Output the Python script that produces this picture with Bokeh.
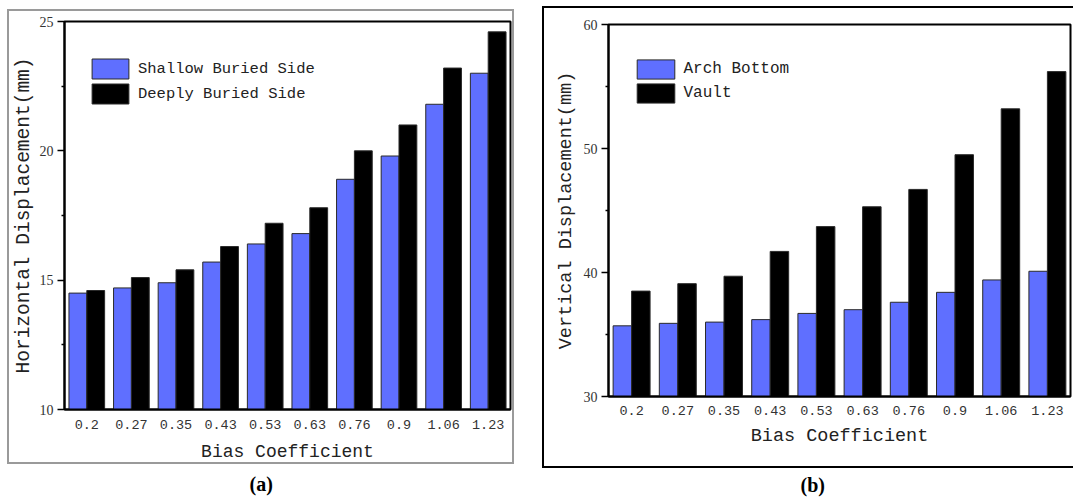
from bokeh.plotting import figure
from bokeh.layouts import row
from bokeh.models import (FactorRange, Range1d, FixedTicker, Legend, LegendItem,
                          Title, ColumnDataSource, InlineStyleSheet)
from bokeh.transform import dodge
from bokeh.embed import file_html
from bokeh.resources import INLINE

# ---- data -------------------------------------------------------------
bias = ["0.2", "0.27", "0.35", "0.43", "0.53", "0.63", "0.76", "0.9", "1.06", "1.23"]

# (a) horizontal displacement, mm
shallow_side = [14.5, 14.7, 14.9, 15.7, 16.4, 16.8, 18.9, 19.8, 21.8, 23.0]
deep_side = [14.6, 15.1, 15.4, 16.3, 17.2, 17.8, 20.0, 21.0, 23.2, 24.6]

# (b) vertical displacement, mm
arch_bottom = [35.7, 35.9, 36.0, 36.2, 36.7, 37.0, 37.6, 38.4, 39.4, 40.1]
vault = [38.5, 39.1, 39.7, 41.7, 43.7, 45.3, 46.7, 49.5, 53.2, 56.2]

BLUE = "#5F6FFF"
BLACK = "#000000"
MONO = "Liberation Mono"
SERIF = "Liberation Serif"


def panel_box(left, top, width, height, color, lw):
    # thin rectangle drawn around the whole panel (outside the plot frame)
    css = (":host { position: relative; }"
           ":host::after { content: ''; position: absolute; "
           f"left: {left}px; top: {top}px; width: {width}px; height: {height}px; "
           f"border: {lw}px solid {color}; box-sizing: border-box; "
           "pointer-events: none; }")
    return InlineStyleSheet(css=css)


def make_panel(a_vals, b_vals, names, y_lo, y_hi, majors, minors, ytitle,
               width, height, border_l, border_r, border_t, border_b,
               legend_xy, glyph_w, glyph_h, leg_spacing, leg_font,
               ytitle_size, ytitle_standoff, xtitle_size,
               x_label_standoff, x_title_standoff, box_sheet):
    src = ColumnDataSource(dict(x=bias, a=a_vals, b=b_vals))
    p = figure(x_range=FactorRange(*bias), y_range=Range1d(y_lo, y_hi),
               width=width, height=height, frame_align=False,
               min_border_left=border_l, min_border_right=border_r,
               min_border_top=border_t, min_border_bottom=border_b,
               output_backend="svg", toolbar_location=None,
               background_fill_color="white", border_fill_color="white",
               stylesheets=[box_sheet])
    p.x_range.range_padding = 0
    p.xgrid.visible = False
    p.ygrid.visible = False
    p.outline_line_color = "black"
    p.outline_line_width = 2

    ra = p.vbar(x=dodge("x", -0.2, range=p.x_range), top="a", bottom=y_lo,
                width=0.4, source=src, fill_color=BLUE,
                line_color="#2a2a2a", line_width=1)
    rb = p.vbar(x=dodge("x", 0.2, range=p.x_range), top="b", bottom=y_lo,
                width=0.4, source=src, fill_color=BLACK,
                line_color="#2a2a2a", line_width=1)

    # y axis
    ya = p.yaxis[0]
    ya.ticker = FixedTicker(ticks=majors, minor_ticks=minors)
    ya.axis_line_width = 2
    ya.axis_line_color = "black"
    ya.major_tick_out = 7
    ya.major_tick_in = 0
    ya.minor_tick_out = 3
    ya.minor_tick_in = 0
    ya.major_tick_line_width = 1.5
    ya.minor_tick_line_width = 1.5
    ya.major_label_text_font = SERIF
    ya.major_label_text_font_size = "14px"
    ya.major_label_text_color = "#333333"
    ya.major_label_standoff = 4
    ya.axis_label = ytitle
    ya.axis_label_text_font = MONO
    ya.axis_label_text_font_size = ytitle_size
    ya.axis_label_text_font_style = "normal"
    ya.axis_label_text_color = "#222222"
    ya.axis_label_standoff = ytitle_standoff

    # x axis
    xa = p.xaxis[0]
    xa.axis_line_width = 2
    xa.axis_line_color = "black"
    xa.major_tick_out = 0
    xa.major_tick_in = 0
    xa.minor_tick_out = 0
    xa.major_label_text_font = MONO
    xa.major_label_text_font_size = "13.5px"
    xa.major_label_text_color = "#333333"
    xa.major_label_standoff = x_label_standoff
    xa.axis_label = "Bias Coefficient"
    xa.axis_label_text_font = MONO
    xa.axis_label_text_font_size = xtitle_size
    xa.axis_label_text_font_style = "normal"
    xa.axis_label_text_color = "#222222"
    xa.axis_label_standoff = x_title_standoff

    legend = Legend(items=[LegendItem(label=names[0], renderers=[ra]),
                           LegendItem(label=names[1], renderers=[rb])],
                    location=legend_xy, orientation="vertical",
                    glyph_width=glyph_w, glyph_height=glyph_h,
                    spacing=leg_spacing, padding=0, margin=0,
                    label_standoff=5, label_text_font=MONO,
                    label_text_font_size=leg_font, label_text_color="#222222",
                    border_line_color=None, background_fill_alpha=0)
    p.add_layout(legend, "center")
    return p


# Panel (a): 536 x 502, plot frame at x 64..510, y 21..409
pa = make_panel(shallow_side, deep_side, ["Shallow Buried Side", "Deeply Buried Side"],
                10, 25, [10, 15, 20, 25], [12.5, 17.5, 22.5],
                "Horizontal Displacement(mm)",
                536, 502, 64, 26, 21, 93,
                (23, 303), 46, 25, -3, "15.5px",
                "19.5px", 2, "18px", 10, 10,
                panel_box(7, 9, 507, 455, "#9a9a9a", 2.5))

# Panel (b): 537 x 502, plot frame at x 72..534, y 24..396
pb = make_panel(arch_bottom, vault, ["Arch Bottom", "Vault"],
                30, 60, [30, 40, 50, 60], [35, 45, 55],
                "Vertical Displacement(mm)",
                537, 502, 72, 3, 24, 106,
                (23.5, 291), 47, 24, -2, "16px",
                "18.5px", 4, "18.5px", 9, 8,
                panel_box(6, 6, 545, 462, "#000000", 2))

# panel captions (the caption of (b) sits one line lower, below its taller frame box)
pa.add_layout(Title(text="(a)", align="left", offset=185, standoff=12,
                    text_font=SERIF, text_font_style="bold", text_font_size="20px",
                    text_color="black"), "below")
pb.add_layout(Title(text="\n(b)", align="left", offset=192, standoff=0,
                    text_font=SERIF, text_font_style="bold", text_font_size="20px",
                    text_color="black"), "below")

layout = row(pa, pb, spacing=0)
open("out.html", "w").write(file_html(layout, INLINE))
